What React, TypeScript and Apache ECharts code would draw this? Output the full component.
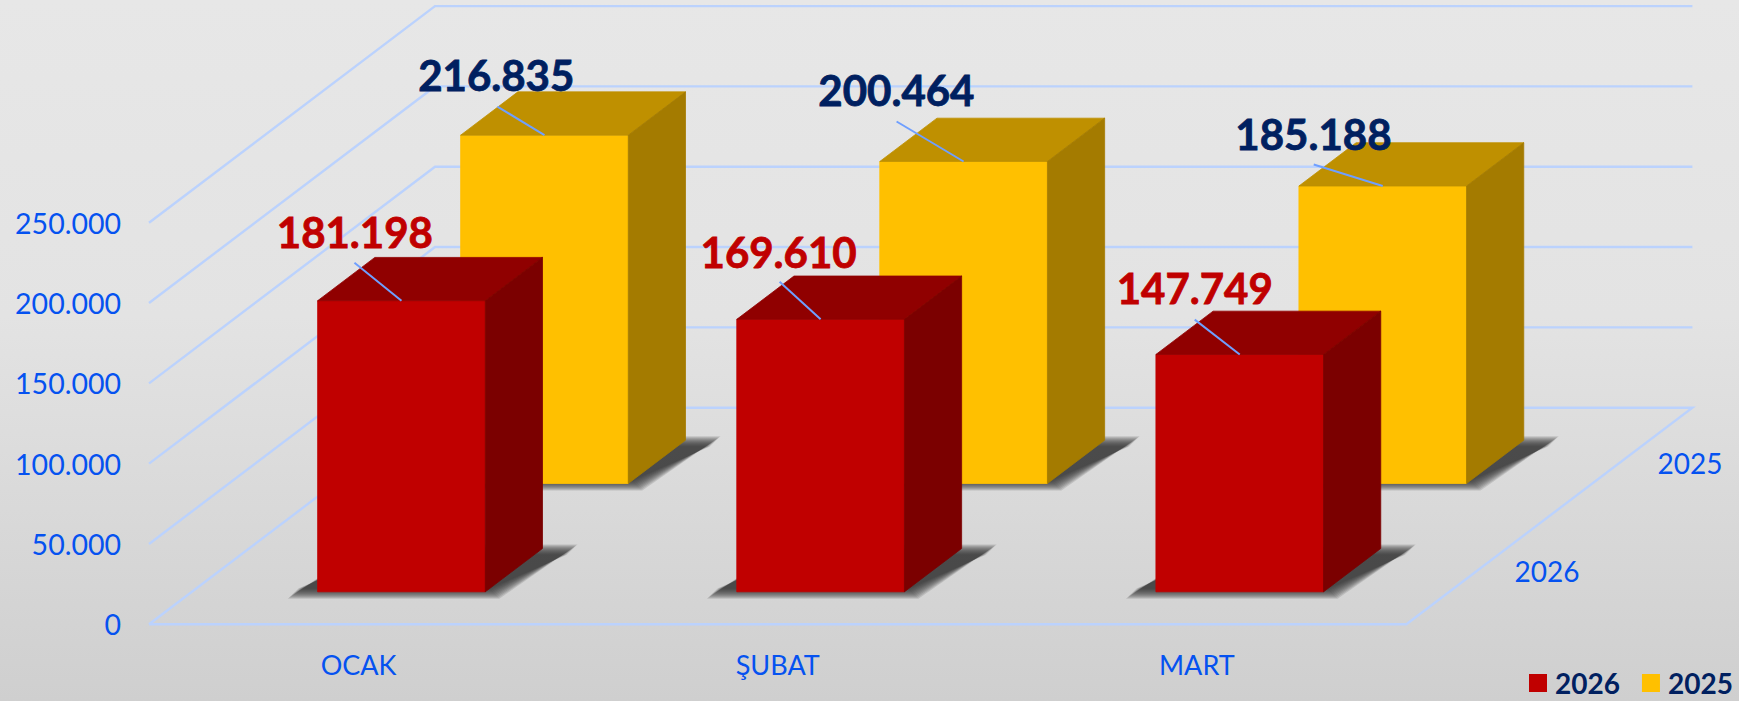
import React, { useEffect, useRef } from "react";
import * as echarts from "echarts";

const categories = ["OCAK", "ŞUBAT", "MART"];
const values2026 = [181198, 169610, 147749];
const values2025 = [216835, 200464, 185188];
const rowNames = ["2026", "2025"];
const yTicks = [0, 50000, 100000, 150000, 200000, 250000];

// Projection and bar geometry (style constants, not data)
const DEPTH_X = 286;
const DEPTH_Y = -216.6;
const BAR_WIDTH = 0.4;
const BAR_DEPTH = 0.2;
const FONT = "Lato";
const LABEL_BLUE = "#0552f0";
const GRID_BLUE = "#bbd2fd";
const SHADOW_LAYERS = [8, 7, 6, 5, 4, 3, 2, 1, 0, -1, -2];

type Look = { front: string; top: string; side: string; label: string };
const looks: Record<string, Look> = {
  "2026": { front: "#c00000", top: "#900000", side: "#7b0000", label: "#c00000" },
  "2025": { front: "#ffc000", top: "#bf9000", side: "#a47b00", label: "#002060" },
};
// label centre and leader start, relative to the middle of the bar's front top edge
const labelOffsets2026 = [[-46.6, -69, -47, -38], [-42, -67.3, -41, -37.5], [-45, -66.4, -45, -34.8]];
const labelOffsets2025 = [[-48.2, -60.3, -47, -28.6], [-67.2, -71.2, -67, -40], [-69.3, -52.2, -69, -21.5]];

const fmt = (v: number) => String(v).replace(/\B(?=(\d{3})+$)/g, ".");

function barSeries(name: string, row: number, values: number[], offsets: number[][]) {
  const look = looks[name];
  const tFront = (row === 0 ? 0.25 : 0.75) - BAR_DEPTH / 2;
  return {
    type: "custom",
    name,
    silent: true,
    itemStyle: { color: look.front },
    encode: { x: 0, y: 1 },
    data: values.map((v, i) => [i, v]),
    renderItem: (params: any, api: any) => {
      const i = api.value(0);
      const v = api.value(1);
      const band = api.size([1, 0])[0];
      const t = api.coord([i, v]);
      const b = api.coord([i, 0]);
      const w = band * BAR_WIDTH;
      const ox = tFront * DEPTH_X;
      const oy = tFront * DEPTH_Y;
      const dx = BAR_DEPTH * DEPTH_X;
      const dy = BAR_DEPTH * DEPTH_Y;
      const l = t[0] + ox - w / 2;
      const r = l + w;
      const top = t[1] + oy;
      const bottom = b[1] + oy;
      const poly = (points: number[][], fill: string) => ({
        type: "polygon",
        shape: { points },
        style: { fill, stroke: fill, lineWidth: 0.8 },
      });
      const off = offsets[i];
      const cx = (l + r) / 2;
      const shadows = SHADOW_LAYERS.map((e) => ({
        type: "polygon",
        shape: {
          points: [
            [l - 22 - e, bottom - 1 + e],
            [r + 6 + e, bottom - 1 + e],
            [r + dx + 27 + e, bottom + dy + 4 - e],
            [l + dx - e, bottom + dy + 4 - e],
          ],
        },
        style: { fill: "rgba(45,45,45,0.15)" },
      }));
      return {
        type: "group",
        children: [
          ...shadows,
          poly([[l, top], [r, top], [r, bottom], [l, bottom]], look.front),
          poly([[l, top], [r, top], [r + dx, top + dy], [l + dx, top + dy]], look.top),
          poly([[r, top], [r + dx, top + dy], [r + dx, bottom + dy], [r, bottom]], look.side),
          {
            type: "line",
            shape: { x1: cx + off[2], y1: top + off[3], x2: cx, y2: top },
            style: { stroke: "#6f9fff", lineWidth: 2 },
          },
          {
            type: "text",
            style: {
              x: cx + off[0],
              y: top + off[1],
              text: fmt(v),
              fill: look.label,
              stroke: look.label,
              lineWidth: 0.8,
              font: `bold 42px ${FONT}`,
              align: "center",
              verticalAlign: "middle",
            },
          },
        ],
      };
    },
  };
}

const wallSeries = {
  type: "custom",
  name: "walls",
  silent: true,
  encode: { x: 0, y: 1 },
  data: yTicks.map((v) => [0, v]),
  renderItem: (params: any, api: any) => {
    const band = api.size([1, 0])[0];
    const p = api.coord([0, api.value(1)]);
    const x0 = p[0] - band / 2;
    const x1 = x0 + band * categories.length;
    const y = p[1];
    const closed = api.value(1) === 0;
    const points = [
      [x0, y],
      [x0 + DEPTH_X, y + DEPTH_Y],
      [x1 + DEPTH_X, y + DEPTH_Y],
    ];
    if (closed) points.push([x1, y], [x0, y]);
    return {
      type: "polyline",
      shape: { points },
      style: { stroke: GRID_BLUE, lineWidth: 2.4, fill: "none" },
    };
  },
};

const depthLabelSeries = {
  type: "custom",
  name: "depth",
  silent: true,
  encode: { x: 0, y: 1 },
  data: rowNames.map((_, i) => [categories.length - 1, 0, i]),
  renderItem: (params: any, api: any) => {
    const band = api.size([1, 0])[0];
    const row = api.value(2);
    const p = api.coord([api.value(0), 0]);
    const t = row === 0 ? 0.25 : 0.75;
    return {
      type: "text",
      style: {
        x: p[0] + band / 2 + t * DEPTH_X + 69,
        y: p[1] + t * DEPTH_Y + 1,
        text: rowNames[row],
        fill: LABEL_BLUE,
        font: `28px ${FONT}`,
        align: "center",
        verticalAlign: "middle",
      },
    };
  },
};

export default function App() {
  const ref = useRef<HTMLDivElement>(null);
  useEffect(() => {
    document.body.style.margin = "0";
    const chart = echarts.init(ref.current!, null, { renderer: "svg" });
    chart.setOption({
      animation: false,
      backgroundColor: new echarts.graphic.LinearGradient(0, 0, 0, 1, [
        { offset: 0, color: "#e7e7e7" },
        { offset: 0.45, color: "#e3e3e3" },
        { offset: 1, color: "#cfcfcf" },
      ]),
      grid: { left: 149, top: 222.7, width: 1257.4, height: 401.6 },
      xAxis: {
        type: "category",
        data: categories,
        axisLine: { show: false },
        axisTick: { show: false },
        axisLabel: { color: LABEL_BLUE, fontFamily: FONT, fontSize: 27, margin: 27 },
      },
      yAxis: {
        type: "value",
        min: 0,
        max: 250000,
        interval: 50000,
        splitLine: { show: false },
        axisLine: { show: false },
        axisTick: { show: false },
        axisLabel: {
          color: LABEL_BLUE,
          fontFamily: FONT,
          fontSize: 28.5,
          margin: 28,
          formatter: (v: number) => fmt(v),
        },
      },
      legend: {
        data: [
          { name: "2026", icon: "rect" },
          { name: "2025", icon: "rect" },
        ],
        left: 1529,
        top: 669,
        padding: 0,
        itemWidth: 18,
        itemHeight: 18,
        itemGap: 22,
        selectedMode: false,
        textStyle: {
          color: "#002060",
          fontFamily: FONT,
          fontWeight: "bold",
          fontSize: 28,
          padding: [0, 0, 0, 3],
        },
      },
      series: [
        wallSeries,
        barSeries("2025", 1, values2025, labelOffsets2025),
        barSeries("2026", 0, values2026, labelOffsets2026),
        depthLabelSeries,
      ],
    });
    return () => chart.dispose();
  }, []);
  return <div ref={ref} style={{ position: "absolute", left: 0, top: 0, width: 1739, height: 701 }} />;
}
